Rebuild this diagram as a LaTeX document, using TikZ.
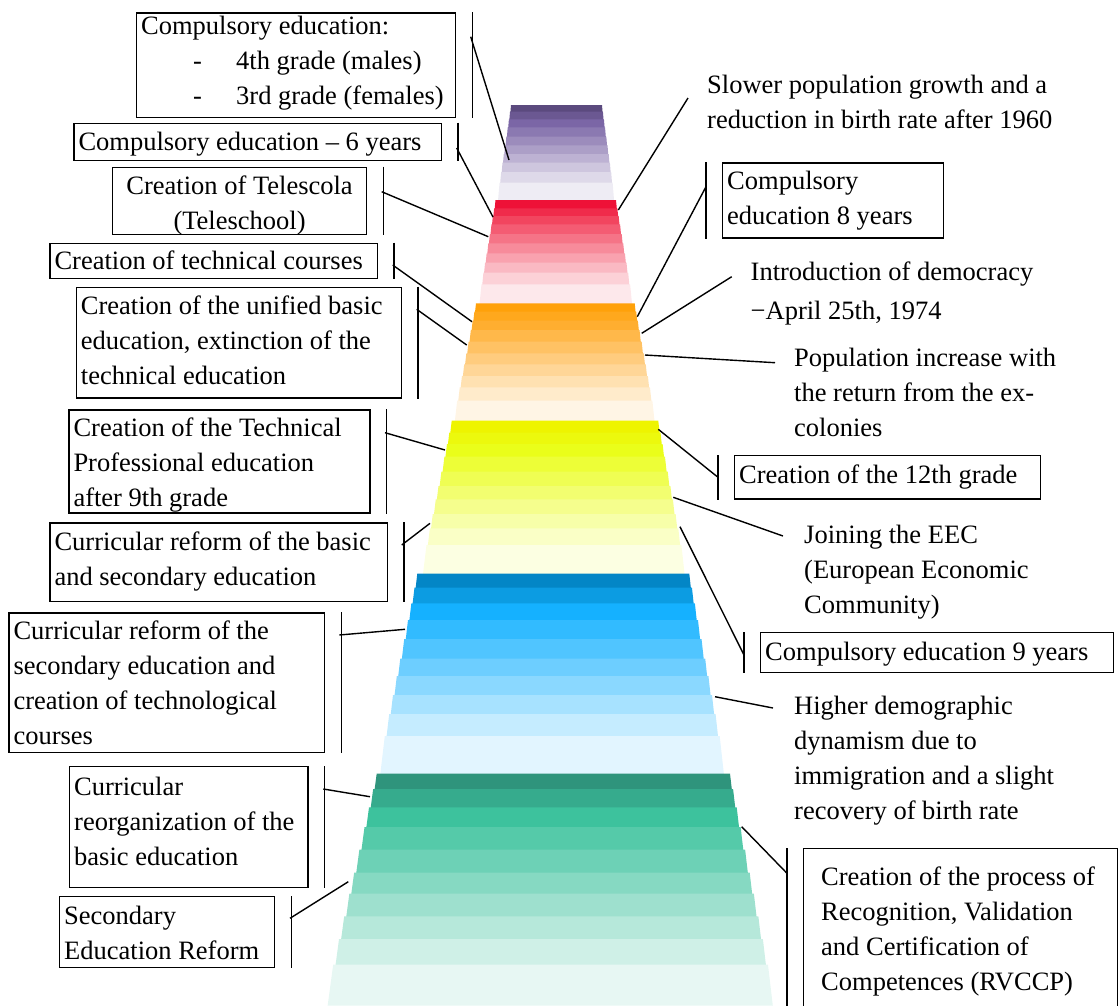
\documentclass[tikz,border=0pt]{standalone}
\usepackage{fontspec}
\setmainfont{Liberation Serif}

\definecolor{purA}{HTML}{5B4A7E}
\definecolor{purB}{HTML}{7B66A6}
\definecolor{redA}{HTML}{EE1137}
\definecolor{redB}{HTML}{F2455F}
\definecolor{oraA}{HTML}{FFA10A}
\definecolor{oraB}{HTML}{FFAE30}
\definecolor{yelA}{HTML}{EEF400}
\definecolor{yelB}{HTML}{EAFE1A}
\definecolor{bluA}{HTML}{0386C6}
\definecolor{bluB}{HTML}{15B1FF}
\definecolor{grnA}{HTML}{2F947C}
\definecolor{grnB}{HTML}{3DC29D}

\begin{document}
\begin{tikzpicture}[x=1pt,y=-1pt]
		\tikzset{box/.style = {draw, line width=1.4pt, anchor=north west, inner sep=0pt},
			txt/.style = {align=left, inner sep=0pt, anchor=north west, font=\fontsize{26.5}{35}\selectfont},
			bar/.style = {line width=1.4pt},
			lead/.style = {line width=1.4pt}}

		\useasboundingbox (0,0) rectangle (1119,1005);

		% the stairs
		\foreach \yt/\yb/\lt/\lb/\rt/\rb/\ca/\cb/\ys in {
			105/200/511/497/602/615/purA/purB/{111.7,119.3,127.3,136.7,145.3,154,162.7,172,182.7,200},
			200/303.3/495.5/478.3/616/633.3/redA/redB/{208.3,216,224.3,234,243.3,253.3,262.7,272.7,284.3,303.3},
			303.3/420.7/476/453.3/634.7/656/oraA/oraB/{311.7,320.7,330,341.7,353.3,364.3,376,387.3,400.7,420.7},
			420.7/573.5/451.7/420.7/658.3/686.7/yelA/yelB/{432.7,444,456.7,471.7,486,499.3,514,528.3,545,573.5},
			573.5/773.5/417.3/377.3/689.3/726.7/bluA/bluB/{587.7,603.3,620,639,658.7,676,695,714,736,773.5},
			773.5/1005/376.7/324/730/776/grnA/grnB/{789,807.3,827,849.7,872.7,893.7,916.3,939,964.7,1005}}
		{
			\foreach \ybot [count=\k from 0, remember=\ybot as \ytop (initially \yt)] in \ys {
				\pgfmathsetmacro\xa{\lt+(\lb-\lt)*(\ytop-\yt)/(\yb-\yt)}
				\pgfmathsetmacro\xb{\lt+(\lb-\lt)*(\ybot-\yt)/(\yb-\yt)}
				\pgfmathsetmacro\xc{\rt+(\rb-\rt)*(\ytop-\yt)/(\yb-\yt)}
				\pgfmathsetmacro\xd{\rt+(\rb-\rt)*(\ybot-\yt)/(\yb-\yt)}
				\pgfmathsetmacro\xb{\xb+0.4*(\xa-\xb)}
				\pgfmathsetmacro\xd{\xd+0.4*(\xc-\xd)}
				\ifnum\k=0 \colorlet{band}{\ca}\else\ifnum\k=1 \colorlet{band}{\ca!50!\cb}\else
					\pgfmathsetmacro\p{100-(\k-2)*12.5}\colorlet{band}{\cb!\p!white}\fi\fi
				\fill[band] (\xa,\ytop) -- (\xc,\ytop) -- (\xd,\ybot+0.5) -- (\xb,\ybot+0.5) -- cycle;
			}
		}

		% boxes on the left
		\node[box, minimum width=319pt, minimum height=104.4pt] (B_1) at (136,12.3) {};
		\node[box, minimum width=367.4pt, minimum height=37.3pt] (B_2) at (73.3,122.7) {};
		\node[box, minimum width=254.3pt, minimum height=67.3pt] (B_3) at (111.7,166.7) {};
		\node[box, minimum width=327.4pt, minimum height=35.3pt] (B_4) at (49.3,242.7) {};
		\node[box, minimum width=325pt, minimum height=110.6pt] (B_5) at (75.7,286.7) {};
		\node[box, minimum width=301pt, minimum height=103pt] (B_6) at (68.3,409.3) {};
		\node[box, minimum width=337.4pt, minimum height=78.7pt] (B_7) at (49.3,522.3) {};
		\node[box, minimum width=315.7pt, minimum height=139.4pt] (B_8) at (8.3,612.3) {};
		\node[box, minimum width=238.3pt, minimum height=120.7pt] (B_9) at (69,766) {};
		\node[box, minimum width=215pt, minimum height=70.7pt] (B_10) at (59,896) {};

		\node[txt] (T_1) at ([xshift=5pt]B_1.north west) {\rule{0pt}{21.5pt}Compulsory education:\\
			\hspace*{52pt}\makebox[43pt][l]{-}4th grade (males)\\
			\hspace*{52pt}\makebox[43pt][l]{-}3rd grade (females)};
		\node[txt] (T_2) at ([xshift=5pt]B_2.north west) {\rule{0pt}{28pt}Compulsory education -- 6 years};
		\node[txt, align=center, anchor=north] (T_3) at (B_3.north) {\rule{0pt}{28pt}Creation of Telescola\\(Teleschool)};
		\node[txt] (T_4) at ([xshift=5pt]B_4.north west) {\rule{0pt}{27pt}Creation of technical courses};
		\node[txt] (T_5) at ([xshift=5pt]B_5.north west) {\rule{0pt}{28pt}Creation of the unified basic\\education, extinction of the\\technical education};
		\node[txt] (T_6) at ([xshift=5pt]B_6.north west) {\rule{0pt}{27pt}Creation of the Technical\\Professional education\\after 9th grade};
		\node[txt] (T_7) at ([xshift=5pt]B_7.north west) {\rule{0pt}{28pt}Curricular reform of the basic\\and secondary education};
		\node[txt] (T_8) at ([xshift=5pt]B_8.north west) {\rule{0pt}{27pt}Curricular reform of the\\secondary education and\\creation of technological\\courses};
		\node[txt] (T_9) at ([xshift=5pt]B_9.north west) {\rule{0pt}{29pt}Curricular\\reorganization of the\\basic education};
		\node[txt] (T_10) at ([xshift=5pt]B_10.north west) {\rule{0pt}{28pt}Secondary\\Education Reform};

		\foreach \b in {1,...,10}
			\draw[bar] ([xshift=16pt]B_\b.north east) -- ([xshift=16pt]B_\b.south east);

		% boxes and texts on the right
		\node[box, minimum width=220.7pt, minimum height=75pt] (B_b) at (722,162.3) {};
		\node[box, minimum width=306pt, minimum height=43.3pt] (B_e) at (734,455) {};
		\node[box, minimum width=353pt, minimum height=40pt] (B_g) at (760,632) {};
		\node[box, minimum width=314pt, minimum height=170pt] (B_i) at (803,848) {};

		\node[txt] (T_a) at (707,75) {Slower population growth and a\\reduction in birth rate after 1960};
		\node[txt] (T_b) at ([xshift=5pt]B_b.north west) {\rule{0pt}{27pt}Compulsory\\education 8 years};
		\node[txt] (T_c) at (750.5,252) {\rule{0pt}{28pt}Introduction of democracy\\[4pt]−April 25th, 1974};
		\node[txt] (T_d) at (794,338) {\rule{0pt}{28pt}Population increase with\\the return from the ex-\\colonies};
		\node[txt] (T_e) at ([xshift=5pt]B_e.north west) {\rule{0pt}{28.3pt}Creation of the 12th grade};
		\node[txt] (T_f) at (804,515) {\rule{0pt}{28pt}Joining the EEC\\(European Economic\\Community)};
		\node[txt] (T_g) at ([xshift=5pt]B_g.north west) {\rule{0pt}{28pt}Compulsory education 9 years};
		\node[txt] (T_h) at (794,686) {\rule{0pt}{28pt}Higher demographic\\dynamism due to\\immigration and a slight\\recovery of birth rate};
		\node[txt] (T_i) at ([xshift=18pt]B_i.north west) {\rule{0pt}{37pt}Creation of the process of\\Recognition, Validation\\and Certification of\\Competences (RVCCP)};

		\foreach \b in {b,e,g,i}
			\draw[bar] ([xshift=-16pt]B_\b.north west) -- ([xshift=-16pt]B_\b.south west);

		% callout lines
		\coordinate (P_1) at (470.7,36.7);	\coordinate (S_1) at (509,160);
		\coordinate (P_2) at (456.7,148);	\coordinate (S_2) at (493,217);
		\coordinate (P_3) at (381.7,191.7);	\coordinate (S_3) at (488.3,236.7);
		\coordinate (P_4) at (392.7,265);	\coordinate (S_4) at (472,321.7);
		\coordinate (P_5) at (416.7,309.3);	\coordinate (S_5) at (466.7,345);
		\coordinate (P_6) at (385,432.7);	\coordinate (S_6) at (445,450);
		\coordinate (P_7) at (401.7,545);	\coordinate (S_7) at (430,523.3);
		\coordinate (P_8) at (339.3,635);	\coordinate (S_8) at (405,629.3);
		\coordinate (P_9) at (323.3,789);	\coordinate (S_9) at (370,796.7);
		\coordinate (P_10) at (290,918.3);	\coordinate (S_10) at (348.3,881.7);
		\coordinate (P_a) at (688,98);		\coordinate (S_a) at (618.3,210);
		\coordinate (P_b) at (706,186.7);	\coordinate (S_b) at (637.3,316.7);
		\coordinate (P_c) at (731.7,276.7);	\coordinate (S_c) at (641.7,333.3);
		\coordinate (P_d) at (775,362.7);	\coordinate (S_d) at (645,355);
		\coordinate (P_e) at (718,477.3);	\coordinate (S_e) at (658.3,429.3);
		\coordinate (P_f) at (783,536);		\coordinate (S_f) at (673.3,497.3);
		\coordinate (P_g) at (744,655);		\coordinate (S_g) at (680,526.7);
		\coordinate (P_h) at (773,708);		\coordinate (S_h) at (715,696.7);
		\coordinate (P_i) at (787,873.3);	\coordinate (S_i) at (741.7,826.7);

		\foreach \c in {1,...,10,a,b,c,d,e,f,g,h,i}
			\draw[lead] (P_\c) -- (S_\c);

	\end{tikzpicture}
\end{document}
